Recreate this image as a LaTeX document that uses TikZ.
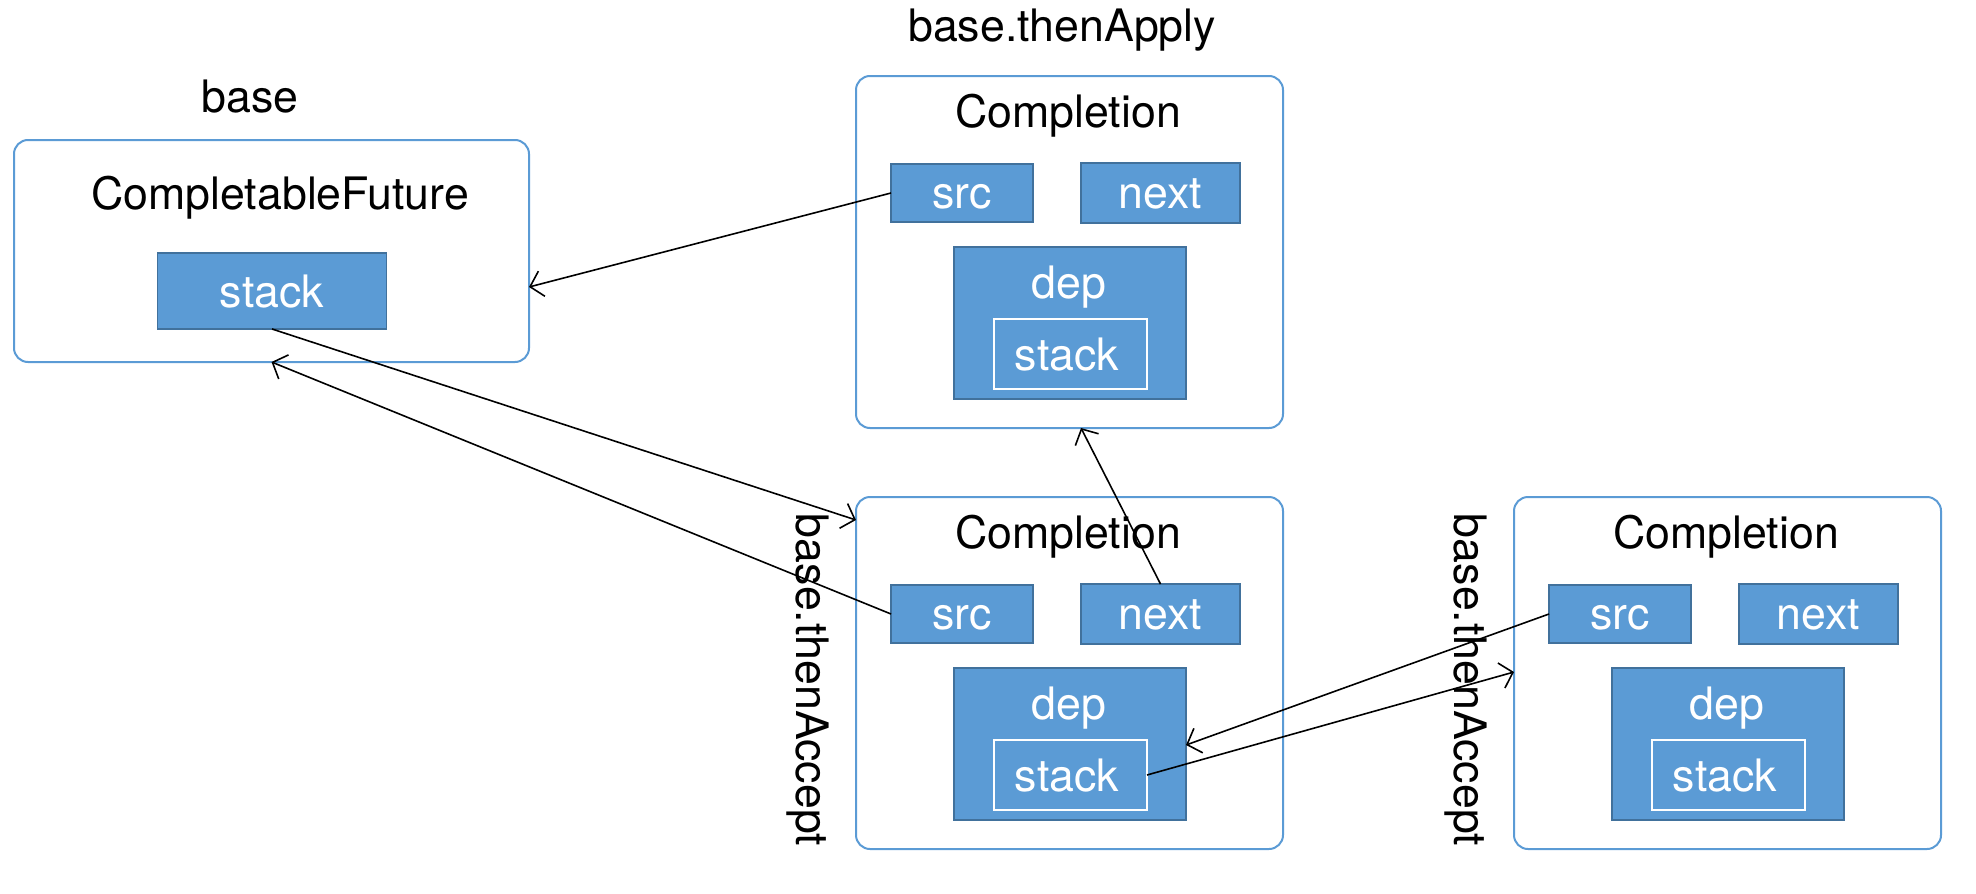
\documentclass[tikz,border=0pt]{standalone}
\usepackage{fontspec}
\setmainfont{TeX Gyre Heros}
\usetikzlibrary{arrows.meta}
\definecolor{fillblue}{HTML}{5B9BD5}
\definecolor{edgeblue}{HTML}{41719C}
\definecolor{boxblue}{HTML}{5B9BD5}
\tikzset{
  every node/.style={font=\fontsize{44.7}{52}\selectfont, inner sep=0pt, outer sep=0pt},
  outerbox/.style={draw=boxblue, line width=2pt, rounded corners=14pt},
  field/.style={draw=edgeblue, fill=fillblue, line width=1.6pt},
  innerfield/.style={draw=white, fill=fillblue, line width=1.6pt},
  wtext/.style={text=white, anchor=base},
  btext/.style={text=black, anchor=base},
  conn/.style={line width=1.6pt, -{Straight Barb[length=12pt,width=26pt]}}
}
\newcommand\complbox[3]{%
  \node[outerbox, minimum width=427pt, minimum height=352pt] (#1) at (#2+213.5,#3+176) {};
  \node[btext] (#1title) at (#2+212,#3+51) {Completion};
  \node[field, minimum width=142pt, minimum height=58pt] (#1src) at (#2+106,#3+117) {};
  \node[wtext] (#1srct) at (#2+106,#3+132) {src};
  \node[field, minimum width=159pt, minimum height=60pt] (#1next) at (#2+304.5,#3+117) {};
  \node[wtext] (#1nextt) at (#2+304.5,#3+132) {next};
  \node[field, minimum width=232pt, minimum height=152pt] (#1dep) at (#2+214,#3+247) {};
  \node[wtext] (#1dept) at (#2+213,#3+222) {dep};
  \node[innerfield, minimum width=153pt, minimum height=70pt] (#1stk) at (#2+214.5,#3+278) {};
  \node[wtext] (#1stkt) at (#2+211,#3+294) {stack};
}
\begin{document}
\begin{tikzpicture}[x=1pt,y=-1pt]
\useasboundingbox (0,0) rectangle (1976,894);
% base
\node[btext] (baselbl) at (250,112) {base};
\node[outerbox, minimum width=515pt, minimum height=222pt] (cf) at (271.5,251) {};
\node[btext] (cft) at (280,209) {CompletableFuture};
\node[field, minimum width=229pt, minimum height=76pt] (cfstk) at (272,291) {};
\node[wtext] (cfstkt) at (272,307.5) {stack};
% Completions
\node[btext] (applylbl) at (1062,41.6) {base.thenApply};
\complbox{ta}{856}{76}
\complbox{mid}{856}{497}
\complbox{rt}{1514}{497}
\node[btext, rotate=-90] (acc1) at (796,680) {base.thenAccept};
\node[btext, rotate=-90] (acc2) at (1454,680) {base.thenAccept};
% connectors
\coordinate (cfE) at (cf.east |- 0,287);
\draw[conn] (tasrc.west) -- (cfE);
\coordinate (midW) at (mid.west |- 0,520);
\draw[conn] (cfstk.south) -- (midW);
\draw[conn] (midsrc.west) -- (cf.south);
\coordinate (taS) at (1081,428);
\draw[conn] (midnext.north) -- (taS);
\coordinate (depE) at (middep.east |- 0,745);
\draw[conn] (rtsrc.west) -- (depE);
\coordinate (rtW) at (rt.west |- 0,672);
\draw[conn] (midstk.east) -- (rtW);
\end{tikzpicture}
\end{document}
